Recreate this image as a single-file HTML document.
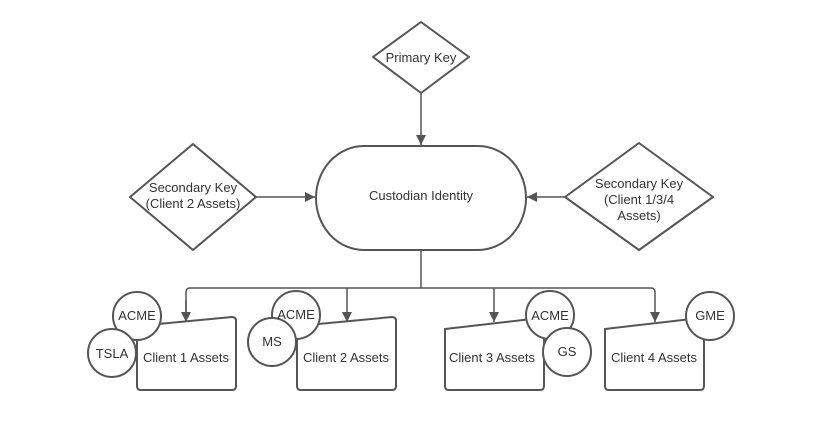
<!DOCTYPE html>
<html><head><style>body{margin:0;background:#fff}</style></head><body>
<svg width="813" height="423" viewBox="0 0 813 423" xmlns="http://www.w3.org/2000/svg" font-family="Liberation Sans, sans-serif" font-size="13" fill="#333">
<defs><marker id="a" viewBox="0 0 10 10" refX="10" refY="5" markerWidth="10" markerHeight="10" markerUnits="userSpaceOnUse" orient="auto"><path d="M0,0 L10,5 L0,10z" fill="#555"/></marker></defs>
<g stroke="#555" stroke-width="1.5" fill="none">
<line x1="421" y1="93" x2="421" y2="145" marker-end="url(#a)"/>
<line x1="256" y1="197" x2="315" y2="197" marker-end="url(#a)"/>
<line x1="565" y1="197" x2="527" y2="197" marker-end="url(#a)"/>
<path d="M421 250 V288"/>
<path d="M186 322 V292 Q186 288 190 288 H651 Q655 288 655 292 V322" marker-end="url(#a)"/>
<line x1="186" y1="300" x2="186" y2="322" marker-end="url(#a)"/>
<line x1="347" y1="288" x2="347" y2="322" marker-end="url(#a)"/>
<line x1="494" y1="288" x2="494" y2="322" marker-end="url(#a)"/>
</g>
<g stroke="#555" stroke-width="2" fill="#fff">
<path d="M421 22 L469 57 L421 93 L373 57Z" stroke-linejoin="round"/>
<path d="M193 144 L256 197 L193 250 L130 197Z" stroke-linejoin="round"/>
<path d="M639 143 L713 197 L639 250 L565 197Z" stroke-linejoin="round"/>
<rect x="316" y="146" width="210" height="104" rx="48" ry="52"/>
<path d="M137 326 L232 317 Q236 317 236 321 V386 Q236 390 232 390 H141 Q137 390 137 386Z"/>
<path d="M297 326 L392 317 Q396 317 396 321 V386 Q396 390 392 390 H301 Q297 390 297 386Z"/>
<path d="M445 329 L540 318 Q544 318 544 322 V386 Q544 390 540 390 H449 Q445 390 445 386Z"/>
<path d="M605 329 L700 318 Q704 318 704 322 V386 Q704 390 700 390 H609 Q605 390 605 386Z"/>
<circle cx="137" cy="316" r="24"/><circle cx="112" cy="353" r="24"/>
<circle cx="296" cy="315" r="24"/><circle cx="272" cy="342" r="24"/>
<circle cx="550" cy="315" r="24"/><circle cx="567" cy="352" r="24"/>
<circle cx="710" cy="316" r="24"/>
</g>
<g text-anchor="middle" stroke="none">
<text x="421" y="62">Primary Key</text>
<text x="193" y="192">Secondary Key</text><text x="193" y="208">(Client 2 Assets)</text>
<text x="639" y="188">Secondary Key</text><text x="639" y="204">(Client 1/3/4</text><text x="639" y="220">Assets)</text>
<text x="421" y="200">Custodian Identity</text>
<text x="186" y="362">Client 1 Assets</text>
<text x="346" y="362">Client 2 Assets</text>
<text x="492" y="362">Client 3 Assets</text>
<text x="654" y="362">Client 4 Assets</text>
<text x="137" y="320">ACME</text><text x="112" y="358">TSLA</text>
<text x="296" y="319">ACME</text><text x="272" y="346">MS</text>
<text x="550" y="320">ACME</text><text x="567" y="356">GS</text>
<text x="710" y="320">GME</text>
</g>
</svg>
</body></html>
